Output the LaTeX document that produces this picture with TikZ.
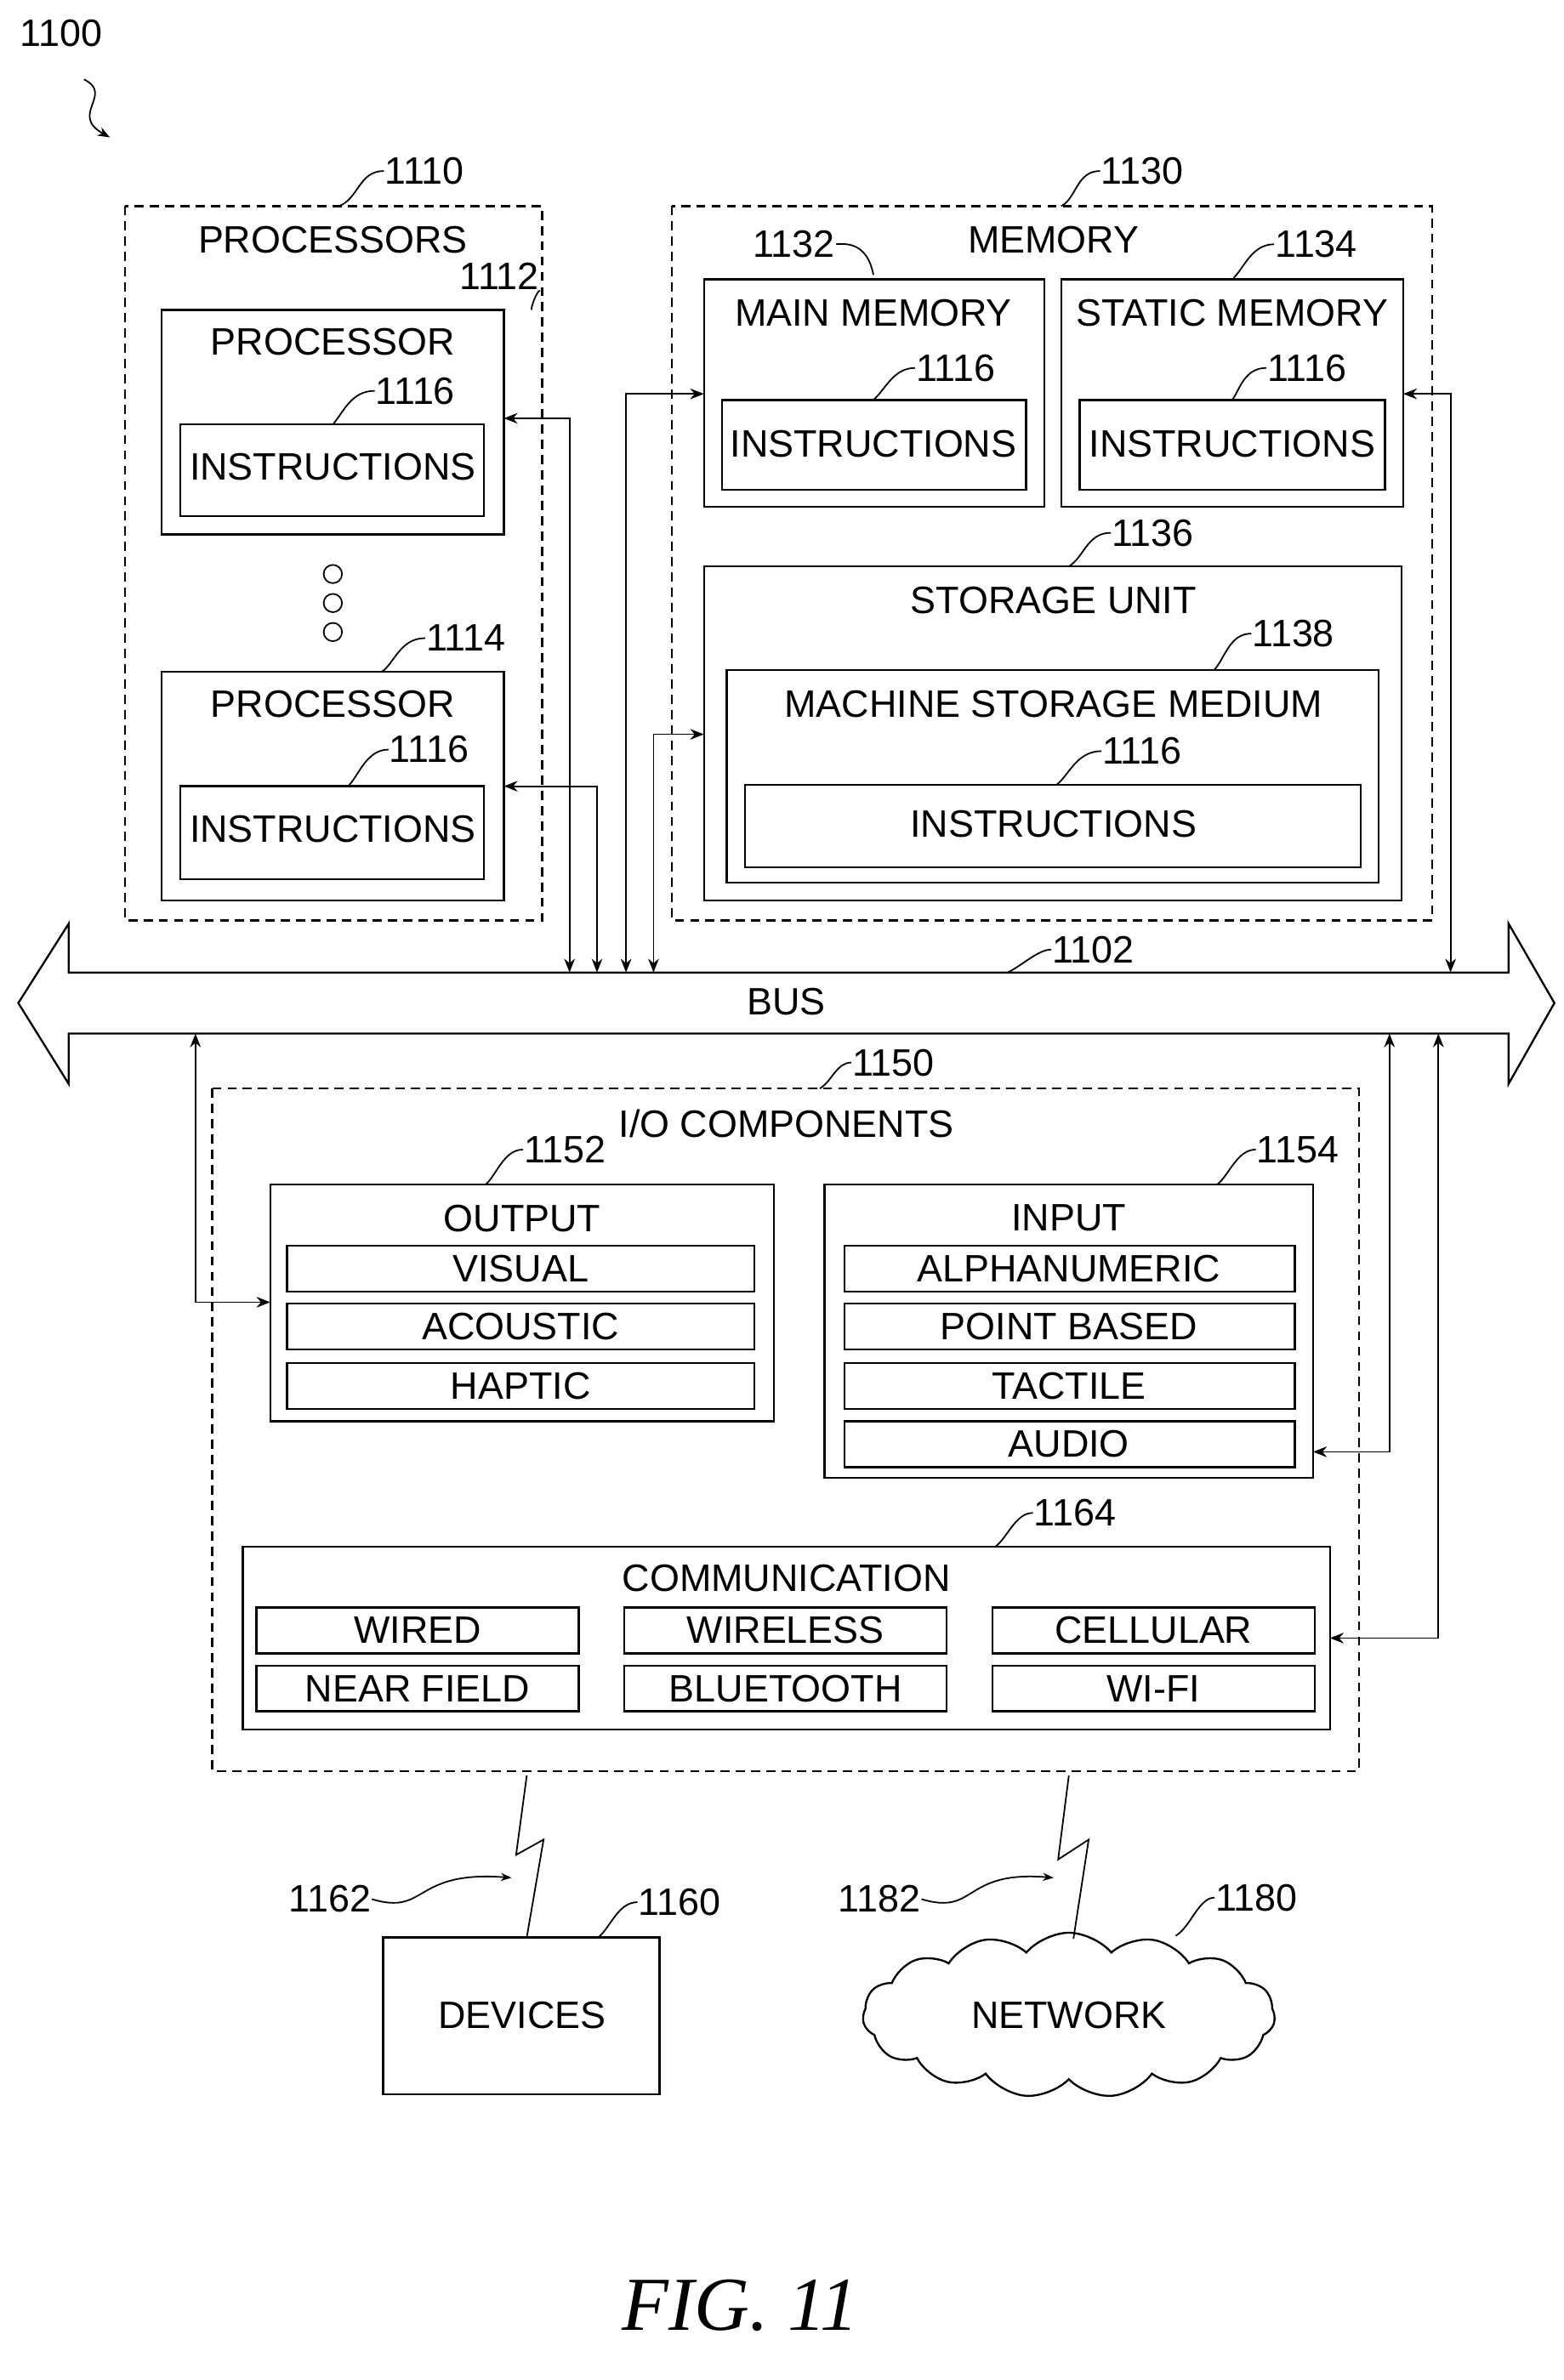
\documentclass[tikz,border=0pt]{standalone}
\usepackage{fontspec}
\setmainfont{Liberation Sans}
\newfontfamily\figfont{Liberation Serif}
\usetikzlibrary{arrows.meta,shapes.symbols}
\begin{document}
\begin{tikzpicture}[x=1pt,y=-1pt,line width=1.3pt,
  t/.style={font=\fontsize{25}{27}\selectfont,inner sep=0pt},
  box/.style={draw},
  dbox/.style={draw,dash pattern=on 6pt off 4pt},
  lead/.style={line width=1pt},
  arr/.style={line width=1pt,{Stealth[length=9pt,width=7pt]}-{Stealth[length=9pt,width=7pt]}}]
\useasboundingbox (0,0) rectangle (1024,1559);
% 1100
\node[t] (n1100) at (40,22) {1100};
\draw[lead,-{Stealth[length=8pt]}] (55,52) .. controls (75,62) and (45,75) .. (72,90);
% Processors
\draw[dbox] (82,135) rectangle (355,603);
\node[t] at (218,157) {PROCESSORS};
\node[t] (l1110) at (278,112) {1110};
\draw[lead] (l1110.west) .. controls (235,112) and (235,130) .. (222,135);
\draw[box] (106,203) rectangle (330,350);
\node[t] at (218,224) {PROCESSOR};
\node[t] (l1112) at (327,181) {1112};
\draw[lead] (l1112.south east) .. controls (352,190) and (348,200) .. (348,203);
\draw[box] (118,278) rectangle (317,338);
\node[t] at (218,306) {INSTRUCTIONS};
\node[t] (a1) at (272,256) {1116};
\draw[lead] (a1.west) .. controls (230,256) and (225,270) .. (218,278);
\foreach \y in {376,395,414} \draw[line width=1pt] (218,\y) circle (6);
\draw[box] (106,440) rectangle (330,590);
\node[t] at (218,461) {PROCESSOR};
\node[t] (l1114) at (305,418) {1114};
\draw[lead] (l1114.west) .. controls (262,418) and (258,435) .. (250,440);
\draw[box] (118,515) rectangle (317,576);
\node[t] at (218,543) {INSTRUCTIONS};
\node[t] (a2) at (281,491) {1116};
\draw[lead] (a2.west) .. controls (240,491) and (235,508) .. (228,515);
% Memory
\draw[dbox] (440,135) rectangle (938,603);
\node[t] at (690,157) {MEMORY};
\node[t] (l1130) at (748,112) {1130};
\draw[lead] (l1130.west) .. controls (705,112) and (705,130) .. (695,135);
\draw[box] (461,183) rectangle (684,332);
\node[t] at (572,205) {MAIN MEMORY};
\node[t] (l1132) at (520,160) {1132};
\draw[lead] (l1132.east) .. controls (565,158) and (570,170) .. (572,180);
\draw[box] (473,262) rectangle (672,321);
\node[t] at (572,291) {INSTRUCTIONS};
\node[t] (a3) at (626,241) {1116};
\draw[lead] (a3.west) .. controls (585,241) and (580,255) .. (572,262);
\draw[box] (695,183) rectangle (919,332);
\node[t] at (807,205) {STATIC MEMORY};
\node[t] (l1134) at (862,160) {1134};
\draw[lead] (l1134.west) .. controls (820,160) and (815,175) .. (808,182);
\draw[box] (707,262) rectangle (907,321);
\node[t] at (807,291) {INSTRUCTIONS};
\node[t] (a4) at (856,241) {1116};
\draw[lead] (a4.west) .. controls (815,241) and (812,255) .. (807,262);
\draw[box] (461,371) rectangle (918,590);
\node[t] at (690,393) {STORAGE UNIT};
\node[t] (l1136) at (755,349) {1136};
\draw[lead] (l1136.west) .. controls (712,349) and (710,365) .. (700,371);
\draw[box] (476,439) rectangle (903,578);
\node[t] at (690,461) {MACHINE STORAGE MEDIUM};
\node[t] (l1138) at (847,415) {1138};
\draw[lead] (l1138.west) .. controls (805,415) and (802,432) .. (795,439);
\draw[box] (488,514) rectangle (891,568);
\node[t] at (690,540) {INSTRUCTIONS};
\node[t] (a5) at (748,492) {1116};
\draw[lead] (a5.west) .. controls (705,492) and (700,508) .. (692,514);
% Bus
\draw[line width=1.3pt] (45,637) -- (988,637) -- (988,605) -- (1018,657) -- (988,710) -- (988,677) -- (45,677) -- (45,710) -- (12,657) -- (45,605) -- cycle;
\node[t] at (515,656) {BUS};
\node[t] (l1102) at (716,622) {1102};
\draw[lead] (l1102.west) .. controls (680,622) and (670,632) .. (660,637);
% bus connections
\draw[arr] (330,274) -- (373,274) -- (373,637);
\draw[arr] (330,515) -- (391,515) -- (391,637);
\draw[arr] (461,258) -- (410,258) -- (410,637);
\draw[arr] (461,481) -- (428,481) -- (428,637);
\draw[arr] (919,258) -- (950,258) -- (950,637);
\draw[arr] (177,853) -- (128,853) -- (128,677);
\draw[arr] (860,951) -- (910,951) -- (910,677);
\draw[arr] (871,1073) -- (942,1073) -- (942,677);
% I/O
\draw[dbox] (139,713) rectangle (890,1160);
\node[t] at (515,736) {I/O COMPONENTS};
\node[t] (l1150) at (585,696) {1150};
\draw[lead] (l1150.west) .. controls (548,696) and (545,708) .. (537,713);
\draw[box] (177,776) rectangle (507,931);
\node[t] at (342,798) {OUTPUT};
\node[t] (l1152) at (370,753) {1152};
\draw[lead] (l1152.west) .. controls (330,753) and (325,770) .. (318,776);
\foreach \a/\b/\s in {816/846/VISUAL,854/884/ACOUSTIC,893/923/HAPTIC}{
  \draw[box] (188,\a) rectangle (494,\b); \node[t] at (341,{(\a+\b)/2}) {\s};}
\draw[box] (540,776) rectangle (860,968);
\node[t] at (700,798) {INPUT};
\node[t] (l1154) at (850,753) {1154};
\draw[lead] (l1154.west) .. controls (810,753) and (805,770) .. (797,776);
\foreach \a/\b/\s in {816/846/ALPHANUMERIC,854/884/POINT BASED,893/923/TACTILE,931/961/AUDIO}{
  \draw[box] (553,\a) rectangle (848,\b); \node[t] at (700,{(\a+\b)/2}) {\s};}
\draw[box] (159,1013) rectangle (871,1133);
\node[t] at (515,1034) {COMMUNICATION};
\node[t] (l1164) at (704,991) {1164};
\draw[lead] (l1164.west) .. controls (665,991) and (660,1007) .. (652,1013);
\foreach \x/\s/\r in {168/WIRED/NEAR FIELD,409/WIRELESS/BLUETOOTH,650/CELLULAR/WI-FI}{
  \draw[box] (\x,1053) rectangle ({\x+211},1083); \node[t] at ({\x+105.5},1068) {\s};
  \draw[box] (\x,1091) rectangle ({\x+211},1121); \node[t] at ({\x+105.5},1106) {\r};}
% devices
\draw[box] (251,1269) rectangle (432,1372);
\node[t] at (342,1320) {DEVICES};
\node[t] (l1160) at (445,1246) {1160};
\draw[lead] (l1160.west) .. controls (405,1246) and (400,1262) .. (392,1269);
\draw[line width=1pt] (345,1163) -- (338,1215) -- (356,1205) -- (345,1269);
\node[t] (l1162) at (216,1244) {1162};
\draw[lead,-{Stealth[length=7pt]}] (l1162.east) .. controls (280,1255) and (270,1225) .. (335,1230);
% network
\node[draw,cloud,cloud puffs=15,cloud puff arc=100,aspect=2.6,minimum width=270pt,minimum height=108pt,t] (net) at (700,1320) {NETWORK};
\draw[line width=1pt] (700,1163) -- (693,1218) -- (713,1205) -- (703,1270);
\node[t] (l1182) at (576,1244) {1182};
\draw[lead,-{Stealth[length=7pt]}] (l1182.east) .. controls (640,1255) and (630,1225) .. (690,1230);
\node[t] (l1180) at (823,1243) {1180};
\draw[lead] (l1180.west) .. controls (785,1243) and (780,1262) .. (770,1268);
\node[inner sep=0pt,font=\figfont\itshape\fontsize{50}{52}\selectfont] at (485,1510) {FIG. 11};
\end{tikzpicture}
\end{document}
